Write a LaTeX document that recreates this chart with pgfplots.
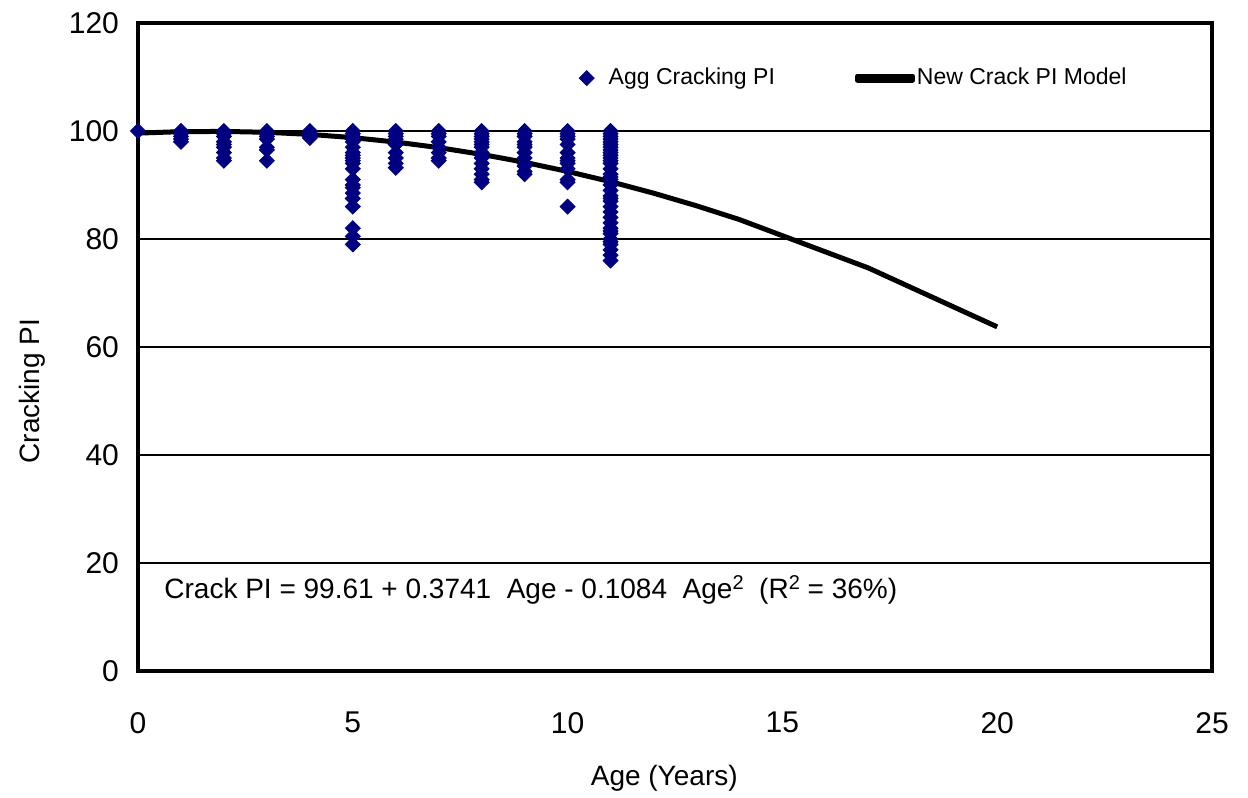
\documentclass[border=0pt]{standalone}
\usepackage{pgfplots}
\pgfplotsset{compat=1.18}
\usepackage{fontspec}
\setmainfont{Liberation Sans}
\usetikzlibrary{calc}
\definecolor{aggblue}{RGB}{0,0,128}

\begin{document}
\begin{tikzpicture}
\begin{axis}[
  name=ax,
  scale only axis,
  width=537pt, height=324pt,
  xmin=0, xmax=25, ymin=0, ymax=120,
  xtick={0,5,10,15,20,25},
  ytick={0,20,40,60,80,100,120},
  major tick length=0pt,
  axis line style={line width=1.6pt},
  ymajorgrids,
  grid style={black, line width=0.8pt},
  /pgf/number format/assume math mode=true,
  tick label style={font=\fontsize{15}{18}\selectfont},
  yticklabel style={xshift=-6pt},
  xticklabel style={yshift=-17pt},
  xlabel={Age (Years)},
  ylabel={Cracking PI},
  xlabel style={font=\fontsize{14}{17}\selectfont, at={(ticklabel cs:0.49)}},
  xlabel shift=9pt,
  ylabel style={font=\fontsize{14}{17}\selectfont, at={(ticklabel cs:0.432)}},
  ylabel shift=5pt,
  legend columns=2,
  legend style={draw=none, fill=none, inner sep=0pt,
    at={(rel axis cs:0.41,0.915)}, anchor=west,
    font=\fontsize{11.5}{14}\selectfont,
    nodes={inner xsep=1pt},
    /tikz/every even column/.style={column sep=39pt}},
]
% observed cracking index by pavement age
\addplot[only marks, mark=square*, mark size=2.65pt, color=aggblue,
  mark options={rotate=45, fill=aggblue},
  legend image code/.code={
    \path[draw=none, fill=none] (-4pt,0pt) -- (10pt,0pt);
    \draw[mark=square*, mark size=2.65pt, mark options={rotate=45, fill=aggblue}]
      plot coordinates {(0pt,0pt)};}]
  coordinates {
  (0,100)
  (1,100) (1,99.5) (1,99) (1,98.5) (1,98)
  (2,100) (2,99.5) (2,99) (2,98) (2,97.5) (2,97) (2,96) (2,95) (2,94.5)
  (3,100) (3,99.5) (3,99) (3,98.5) (3,97) (3,96.5) (3,94.5)
  (4,100) (4,99.5) (4,99) (4,98.7)
  (5,100) (5,99.5) (5,99) (5,98.5) (5,98) (5,97) (5,96) (5,95.5) (5,95) (5,94.5) (5,94) (5,93)
  (5,91) (5,90) (5,89.5) (5,88.5) (5,87.5) (5,86) (5,82) (5,80.5) (5,79)
  (6,100) (6,99.5) (6,99) (6,98.5) (6,97.5) (6,96) (6,95) (6,94) (6,93.2)
  (7,100) (7,99.5) (7,99) (7,98) (7,97) (7,96) (7,95) (7,94.5)
  (8,100) (8,99.5) (8,99) (8,98.5) (8,98) (8,97.5) (8,97) (8,96) (8,95.5) (8,95) (8,94) (8,93)
  (8,92) (8,91) (8,90.5)
  (9,100) (9,99.5) (9,99) (9,98) (9,97.5) (9,97) (9,96) (9,95) (9,94) (9,93.5) (9,92.5) (9,92)
  (10,100) (10,99.5) (10,99) (10,98.5) (10,97.5) (10,96) (10,95) (10,94.5) (10,94) (10,93)
  (10,91) (10,90.5) (10,86)
  (11,100) (11,99.5) (11,99) (11,98.5) (11,98) (11,97.5) (11,97) (11,96.5) (11,96) (11,95.5)
  (11,95) (11,94.5) (11,94) (11,93) (11,92) (11,91.5) (11,91) (11,90) (11,89) (11,88)
  (11,87.5) (11,87) (11,86) (11,85) (11,84) (11,83) (11,82) (11,81.5) (11,81) (11,80)
  (11,79.5) (11,79) (11,78) (11,77) (11,76)
  };
\addlegendentry{Agg Cracking PI}
% fitted quadratic model
\addplot[black, line width=2.5pt, line join=round,
  legend image code/.code={
    \path[use as bounding box] (0pt,-1pt) rectangle (27.5pt,1pt);
    \draw[black, line width=2.5pt] (0pt,0pt) -- (28.5pt,0pt);}]
  coordinates {
  (0,99.61) (1,99.88) (2,99.92) (3,99.76) (4,99.37) (5,98.77) (6,97.95) (7,96.92)
  (8,95.67) (9,94.20) (10,92.51) (11,90.61) (12,88.49) (13,86.15) (14,83.60)
  (17,74.64) (20,63.73)
  };
\addlegendentry{New Crack PI Model}
\node[anchor=west, font=\fontsize{14}{17}\selectfont] at (axis cs:0.45,15)
  {Crack PI = 99.61 + 0.3741 \ Age - 0.1084 \ Age{\fontsize{10}{12}\selectfont\raisebox{0.45em}{2}} \ (R{\fontsize{10}{12}\selectfont\raisebox{0.45em}{2}} = 36\%)};
\end{axis}
\path[use as bounding box] ($(ax.south west)+(-69pt,-63.5pt)$) rectangle ($(ax.north east)+(18pt,11.5pt)$);
\end{tikzpicture}
\end{document}
